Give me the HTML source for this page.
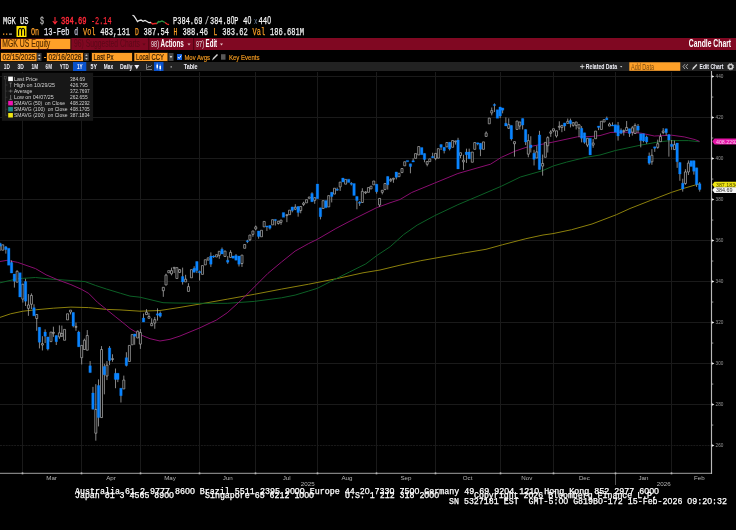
<!DOCTYPE html>
<html lang="en"><head><meta charset="utf-8"><title>MGK US Equity - Candle Chart</title>
<style>
html,body{margin:0;padding:0;background:#000;overflow:hidden}
svg{display:block}
text{white-space:pre}
</style></head>
<body>
<svg width="736" height="530" viewBox="0 0 736 530" shape-rendering="auto">
<rect x="0" y="0" width="736" height="530" fill="#000"/>
<text x="3" y="24" font-size="11.6" fill="#F4F4F4" font-family='"Liberation Mono", "DejaVu Sans Mono", monospace' textLength="25.5" lengthAdjust="spacingAndGlyphs" stroke="#F4F4F4" stroke-width="0.25">MGK US</text>
<text x="40" y="24" font-size="11.6" fill="#B8B8B8" font-family='"Liberation Mono", "DejaVu Sans Mono", monospace' textLength="4" lengthAdjust="spacingAndGlyphs" stroke="#B8B8B8" stroke-width="0.25">$</text>
<path d="M55,17 V23.6 M52.8,21 L55,23.8 L57.2,21" fill="none" stroke="#FF2838" stroke-width="1.1"/>
<text x="61" y="24" font-size="11.6" fill="#FF2838" font-family='"Liberation Mono", "DejaVu Sans Mono", monospace' textLength="25.5" lengthAdjust="spacingAndGlyphs" stroke="#FF2838" stroke-width="0.5">384.69</text>
<text x="91" y="24" font-size="11.6" fill="#FF2838" font-family='"Liberation Mono", "DejaVu Sans Mono", monospace' textLength="20.5" lengthAdjust="spacingAndGlyphs" stroke="#FF2838" stroke-width="0.25">-2.14</text>
<polyline fill="none" stroke="#E8E8E8" stroke-width="1.3" points="132.5,15.2 134,16 136,19 137.5,21.5 139,20.5 141,20 143,21.3 145,20.5 147,21.5 149,22.7 151,22.5"/>
<polyline fill="none" stroke="#E82828" stroke-width="1.3" points="151,22.5 152.5,24 155,23.5 157,23.5"/>
<polyline fill="none" stroke="#2E9A44" stroke-width="1.3" points="157,23.5 158.5,21.5 160,21.8 162,21 164,22 165,22.5"/>
<polyline fill="none" stroke="#E82828" stroke-width="1.3" points="165,22.5 167,24 169,24.7"/>
<text x="173" y="24" font-size="11.6" fill="#F4F4F4" font-family='"Liberation Mono", "DejaVu Sans Mono", monospace' textLength="29.5" lengthAdjust="spacingAndGlyphs" stroke="#F4F4F4" stroke-width="0.25">P384.69</text>
<text x="205" y="24" font-size="11.6" fill="#D0D0D0" font-family='"Liberation Mono", "DejaVu Sans Mono", monospace' textLength="4" lengthAdjust="spacingAndGlyphs" stroke="#D0D0D0" stroke-width="0.25">/</text>
<text x="210" y="24" font-size="11.6" fill="#F4F4F4" font-family='"Liberation Mono", "DejaVu Sans Mono", monospace' textLength="28.5" lengthAdjust="spacingAndGlyphs" stroke="#F4F4F4" stroke-width="0.25">384.8<tspan font-family='"Liberation Sans", sans-serif' font-size="10.79">0</tspan>P</text>
<text x="243" y="24" font-size="11.6" fill="#F4F4F4" font-family='"Liberation Mono", "DejaVu Sans Mono", monospace' textLength="8.3" lengthAdjust="spacingAndGlyphs" stroke="#F4F4F4" stroke-width="0.25">4<tspan font-family='"Liberation Sans", sans-serif' font-size="10.79">0</tspan></text>
<text x="254" y="23.7" font-size="9" fill="#7088A8" font-family='"Liberation Mono", "DejaVu Sans Mono", monospace' textLength="3.5" lengthAdjust="spacingAndGlyphs">x</text>
<text x="258.5" y="24" font-size="11.6" fill="#F4F4F4" font-family='"Liberation Mono", "DejaVu Sans Mono", monospace' textLength="12.5" lengthAdjust="spacingAndGlyphs" stroke="#F4F4F4" stroke-width="0.25">44<tspan font-family='"Liberation Sans", sans-serif' font-size="10.79">0</tspan></text>
<rect x="3" y="33.5" width="1.3" height="1.3" fill="#FFA028" />
<rect x="6" y="33.5" width="1.3" height="1.3" fill="#FFA028" />
<rect x="9" y="33.5" width="3" height="1.3" fill="#999" />
<rect x="16.5" y="26" width="10" height="11" fill="#FFE600" />
<path d="M18.6,35.8 V31.2 Q18.6,28.2 20.2,28.2 Q21.6,28.2 21.6,31.2 V35.8 M21.6,31.2 Q21.6,28.2 23,28.2 Q24.6,28.2 24.6,31.2 V35.8" fill="none" stroke="#000" stroke-width="1.1"/>
<text x="31" y="34.6" font-size="11" fill="#FFA028" font-family='"Liberation Mono", "DejaVu Sans Mono", monospace' textLength="8.16" lengthAdjust="spacingAndGlyphs" stroke="#FFA028" stroke-width="0.25">On</text>
<text x="44" y="34.6" font-size="11" fill="#E8E8F4" font-family='"Liberation Mono", "DejaVu Sans Mono", monospace' textLength="25.48" lengthAdjust="spacingAndGlyphs" stroke="#E8E8F4" stroke-width="0.25">13-Feb</text>
<text x="74.3" y="34.6" font-size="11" fill="#C8C8E0" font-family='"Liberation Mono", "DejaVu Sans Mono", monospace' textLength="3.83" lengthAdjust="spacingAndGlyphs" stroke="#C8C8E0" stroke-width="0.25">d</text>
<text x="83" y="34.6" font-size="11" fill="#FFA028" font-family='"Liberation Mono", "DejaVu Sans Mono", monospace' textLength="12.49" lengthAdjust="spacingAndGlyphs" stroke="#FFA028" stroke-width="0.25">Vol</text>
<text x="100.3" y="34.6" font-size="11" fill="#F4F4F4" font-family='"Liberation Mono", "DejaVu Sans Mono", monospace' textLength="29.81" lengthAdjust="spacingAndGlyphs" stroke="#F4F4F4" stroke-width="0.25">483,131</text>
<text x="135" y="34.6" font-size="11" fill="#FFA028" font-family='"Liberation Mono", "DejaVu Sans Mono", monospace' textLength="3.83" lengthAdjust="spacingAndGlyphs" stroke="#FFA028" stroke-width="0.25">D</text>
<text x="143.6" y="34.6" font-size="11" fill="#F4F4F4" font-family='"Liberation Mono", "DejaVu Sans Mono", monospace' textLength="25.48" lengthAdjust="spacingAndGlyphs" stroke="#F4F4F4" stroke-width="0.25">387.54</text>
<text x="173.6" y="34.6" font-size="11" fill="#FFA028" font-family='"Liberation Mono", "DejaVu Sans Mono", monospace' textLength="3.83" lengthAdjust="spacingAndGlyphs" stroke="#FFA028" stroke-width="0.25">H</text>
<text x="182.6" y="34.6" font-size="11" fill="#F4F4F4" font-family='"Liberation Mono", "DejaVu Sans Mono", monospace' textLength="25.48" lengthAdjust="spacingAndGlyphs" stroke="#F4F4F4" stroke-width="0.25">388.46</text>
<text x="213.6" y="34.6" font-size="11" fill="#FFA028" font-family='"Liberation Mono", "DejaVu Sans Mono", monospace' textLength="3.83" lengthAdjust="spacingAndGlyphs" stroke="#FFA028" stroke-width="0.25">L</text>
<text x="222.3" y="34.6" font-size="11" fill="#F4F4F4" font-family='"Liberation Mono", "DejaVu Sans Mono", monospace' textLength="25.48" lengthAdjust="spacingAndGlyphs" stroke="#F4F4F4" stroke-width="0.25">383.62</text>
<text x="252.6" y="34.6" font-size="11" fill="#FFA028" font-family='"Liberation Mono", "DejaVu Sans Mono", monospace' textLength="12.49" lengthAdjust="spacingAndGlyphs" stroke="#FFA028" stroke-width="0.25">Val</text>
<text x="270" y="34.6" font-size="11" fill="#F4F4F4" font-family='"Liberation Mono", "DejaVu Sans Mono", monospace' textLength="34.14" lengthAdjust="spacingAndGlyphs" stroke="#F4F4F4" stroke-width="0.25">186.681M</text>
<rect x="0" y="38" width="736" height="12" fill="#800822" />
<rect x="0" y="38" width="71.5" height="12" fill="#3A0A10" />
<rect x="1" y="39" width="69.3" height="10" fill="#FFA028" />
<text x="2.3" y="47.3" font-size="10" fill="#5A3000" font-family='"Liberation Sans", "DejaVu Sans", sans-serif' textLength="48" lengthAdjust="spacingAndGlyphs" stroke="#5A3000" stroke-width="0.2" >MGK US Equity</text>
<text x="74" y="47.3" font-size="10" fill="#5C0818" font-family='"Liberation Sans", "DejaVu Sans", sans-serif' textLength="66" lengthAdjust="spacingAndGlyphs" >96) Suggested Charts</text>
<path d="M142.5,43.5 l3,0 l-1.5,2 z" fill="#5C0818"/>
<rect x="148.3" y="38" width="1" height="12" fill="#4A0412" />
<text x="151" y="47.3" font-size="9.5" fill="#D8C4C8" font-family='"Liberation Sans", "DejaVu Sans", sans-serif' textLength="8" lengthAdjust="spacingAndGlyphs" stroke="#D8C4C8" stroke-width="0.15" >98)</text>
<text x="160.6" y="47.3" font-size="10" fill="#fff" font-family='"Liberation Sans", "DejaVu Sans", sans-serif' textLength="23.2" lengthAdjust="spacingAndGlyphs" font-weight="bold" >Actions</text>
<path d="M187.5,43.5 l3,0 l-1.5,2 z" fill="#E8C8CC"/>
<rect x="193.2" y="38" width="1" height="12" fill="#4A0412" />
<text x="196" y="47.3" font-size="9.5" fill="#D8C4C8" font-family='"Liberation Sans", "DejaVu Sans", sans-serif' textLength="8" lengthAdjust="spacingAndGlyphs" stroke="#D8C4C8" stroke-width="0.15" >97)</text>
<text x="205.6" y="47.3" font-size="10" fill="#fff" font-family='"Liberation Sans", "DejaVu Sans", sans-serif' textLength="11.5" lengthAdjust="spacingAndGlyphs" font-weight="bold" >Edit</text>
<path d="M220,43.5 l3,0 l-1.5,2 z" fill="#E8C8CC"/>
<text x="688.8" y="47.2" font-size="10" fill="#fff" font-family='"Liberation Sans", "DejaVu Sans", sans-serif' textLength="42.3" lengthAdjust="spacingAndGlyphs" font-weight="bold" >Candle Chart</text>
<rect x="0.4" y="52.4" width="36.7" height="9.2" fill="#3A2408" />
<rect x="1" y="53" width="35.5" height="8" fill="#FFA028" />
<text x="2.5" y="60" font-size="8.5" fill="#3A2000" font-family='"Liberation Sans", "DejaVu Sans", sans-serif' textLength="33" lengthAdjust="spacingAndGlyphs" stroke="#3A2000" stroke-width="0.2" >02/15/2025</text>
<rect x="37" y="53" width="4.5" height="8" fill="#3C3C3C" />
<path d="M38,56 l2.5,0 l-1.25,-1.8 z M38,58 l2.5,0 l-1.25,1.8 z" fill="#C8C8C8"/>
<rect x="44" y="57" width="2.2" height="1" fill="#FFA028" />
<rect x="46.4" y="52.4" width="37.2" height="9.2" fill="#3A2408" />
<rect x="47" y="53" width="36" height="8" fill="#FFA028" />
<text x="48.5" y="60" font-size="8.5" fill="#3A2000" font-family='"Liberation Sans", "DejaVu Sans", sans-serif' textLength="33" lengthAdjust="spacingAndGlyphs" stroke="#3A2000" stroke-width="0.2" >02/16/2026</text>
<rect x="84.2" y="53" width="4.5" height="8" fill="#3C3C3C" />
<path d="M85.2,56 l2.5,0 l-1.25,-1.8 z M85.2,58 l2.5,0 l-1.25,1.8 z" fill="#C8C8C8"/>
<rect x="91.4" y="52.4" width="41.2" height="9.2" fill="#3A2408" />
<rect x="92" y="53" width="40" height="8" fill="#FFA028" />
<text x="93.5" y="60" font-size="8.5" fill="#3A2000" font-family='"Liberation Sans", "DejaVu Sans", sans-serif' textLength="20" lengthAdjust="spacingAndGlyphs" stroke="#3A2000" stroke-width="0.2" >Last Px</text>
<rect x="133.8" y="52.4" width="34.2" height="9.2" fill="#3A2408" />
<rect x="134.4" y="53" width="33" height="8" fill="#FFA028" />
<text x="135.9" y="60" font-size="8.5" fill="#3A2000" font-family='"Liberation Sans", "DejaVu Sans", sans-serif' textLength="28" lengthAdjust="spacingAndGlyphs" stroke="#3A2000" stroke-width="0.2" >Local CCY</text>
<rect x="168.5" y="53" width="5" height="8" fill="#444" />
<path d="M169.6,56 l2.8,0 l-1.4,2.2 z" fill="#D0D0D0"/>
<rect x="177" y="54" width="5" height="6" fill="#1060E0" />
<path d="M178,57 l1.2,1.5 l2,-3" fill="none" stroke="#fff" stroke-width="0.9"/>
<text x="184.4" y="59.9" font-size="8" fill="#F09820" font-family='"Liberation Sans", "DejaVu Sans", sans-serif' textLength="25.6" lengthAdjust="spacingAndGlyphs" stroke="#F09820" stroke-width="0.2" >Mov Avgs</text>
<path d="M212,60.5 L213,58 L217,54 L218,55 L214,59 Z" fill="#D8D8D8"/>
<rect x="221" y="54.2" width="4.5" height="5.5" fill="#585858" />
<text x="229" y="59.9" font-size="8" fill="#F09820" font-family='"Liberation Sans", "DejaVu Sans", sans-serif' textLength="30.5" lengthAdjust="spacingAndGlyphs" stroke="#F09820" stroke-width="0.2" >Key Events</text>
<rect x="0" y="62" width="736" height="9" fill="#222222" />
<rect x="73" y="62" width="13.3" height="9" fill="#0A52CC" />
<text x="3.8" y="69.3" font-size="7.4" fill="#F0F0F8" font-family='"Liberation Sans", "DejaVu Sans", sans-serif' textLength="6" lengthAdjust="spacingAndGlyphs" font-weight="bold" >1D</text>
<text x="17.5" y="69.3" font-size="7.4" fill="#F0F0F8" font-family='"Liberation Sans", "DejaVu Sans", sans-serif' textLength="6.3" lengthAdjust="spacingAndGlyphs" font-weight="bold" >3D</text>
<text x="31.5" y="69.3" font-size="7.4" fill="#F0F0F8" font-family='"Liberation Sans", "DejaVu Sans", sans-serif' textLength="6.6" lengthAdjust="spacingAndGlyphs" font-weight="bold" >1M</text>
<text x="45.6" y="69.3" font-size="7.4" fill="#F0F0F8" font-family='"Liberation Sans", "DejaVu Sans", sans-serif' textLength="6.4" lengthAdjust="spacingAndGlyphs" font-weight="bold" >6M</text>
<text x="59.8" y="69.3" font-size="7.4" fill="#F0F0F8" font-family='"Liberation Sans", "DejaVu Sans", sans-serif' textLength="9" lengthAdjust="spacingAndGlyphs" font-weight="bold" >YTD</text>
<text x="76.9" y="69.3" font-size="7.4" fill="#F0F0F8" font-family='"Liberation Sans", "DejaVu Sans", sans-serif' textLength="5.7" lengthAdjust="spacingAndGlyphs" font-weight="bold" >1Y</text>
<text x="90.6" y="69.3" font-size="7.4" fill="#F0F0F8" font-family='"Liberation Sans", "DejaVu Sans", sans-serif' textLength="6.4" lengthAdjust="spacingAndGlyphs" font-weight="bold" >5Y</text>
<text x="103.8" y="69.3" font-size="7.4" fill="#F0F0F8" font-family='"Liberation Sans", "DejaVu Sans", sans-serif' textLength="9.3" lengthAdjust="spacingAndGlyphs" font-weight="bold" >Max</text>
<text x="120" y="69.3" font-size="7.4" fill="#F0F0F8" font-family='"Liberation Sans", "DejaVu Sans", sans-serif' textLength="12.5" lengthAdjust="spacingAndGlyphs" font-weight="bold" >Daily</text>
<path d="M134.3,65 l5,0 l-2.5,4.2 z" fill="#F0F0F8"/>
<path d="M146.5,64 L146.5,69.5 L152,69.5" fill="none" stroke="#999" stroke-width="0.8"/>
<path d="M147.5,68 L148.8,66 L150,67 L151.8,65.2" fill="none" stroke="#999" stroke-width="0.8"/>
<rect x="154" y="62" width="9.5" height="9" fill="#0A52CC" />
<path d="M157.2,63.5 v6 M160.2,64.5 v6" stroke="#E8E8F8" stroke-width="0.7"/>
<rect x="156.5" y="64.8" width="1.5" height="3" fill="#fff" />
<rect x="159.5" y="66" width="1.5" height="3" fill="#fff" />
<rect x="170.6" y="66.3" width="1.2" height="1.2" fill="#ccc" />
<text x="183.8" y="69.3" font-size="7.4" fill="#F0F0F8" font-family='"Liberation Sans", "DejaVu Sans", sans-serif' textLength="13.7" lengthAdjust="spacingAndGlyphs" font-weight="bold" >Table</text>
<path d="M580,66.6 h4.4 M582.2,64.4 v4.4" stroke="#ddd" stroke-width="0.9"/>
<text x="585.8" y="69.3" font-size="7.4" fill="#F0F0F8" font-family='"Liberation Sans", "DejaVu Sans", sans-serif' textLength="31.2" lengthAdjust="spacingAndGlyphs" font-weight="bold" >Related Data</text>
<path d="M620,66 l2.4,0 l-1.2,1.6 z" fill="#ccc"/>
<rect x="629.3" y="62.3" width="51" height="8.5" fill="#FFA028" />
<text x="631" y="69.6" font-size="8.5" fill="#7A4A10" font-family='"Liberation Sans", "DejaVu Sans", sans-serif' textLength="23" lengthAdjust="spacingAndGlyphs" >Add Data</text>
<path d="M685,64.2 l-2,2.4 l2,2.4 M687.8,64.2 l-2,2.4 l2,2.4" fill="none" stroke="#ccc" stroke-width="0.8"/>
<path d="M692,70 L692.8,67.8 L696.4,64 L697.4,65 L693.8,68.9 Z" fill="#D8D8D8"/>
<text x="699.6" y="69.3" font-size="7.4" fill="#F0F0F8" font-family='"Liberation Sans", "DejaVu Sans", sans-serif' textLength="23.8" lengthAdjust="spacingAndGlyphs" font-weight="bold" >Edit Chart</text>
<circle cx="730.6" cy="66.7" r="2.1" fill="none" stroke="#ccc" stroke-width="1.5"/>
<circle cx="730.6" cy="66.7" r="3.1" fill="none" stroke="#ccc" stroke-width="0.9" stroke-dasharray="1.2 1.23"/>
<line x1="0" y1="445.5" x2="711.5" y2="445.5" stroke="#1A1A1A" stroke-width="1" stroke-dasharray="2 0.83"/>
<line x1="0" y1="404.5" x2="711.5" y2="404.5" stroke="#1A1A1A" stroke-width="1"/>
<line x1="0" y1="363.5" x2="711.5" y2="363.5" stroke="#1A1A1A" stroke-width="1"/>
<line x1="0" y1="322.5" x2="711.5" y2="322.5" stroke="#1A1A1A" stroke-width="1"/>
<line x1="0" y1="281.5" x2="711.5" y2="281.5" stroke="#1A1A1A" stroke-width="1"/>
<line x1="0" y1="240.5" x2="711.5" y2="240.5" stroke="#1A1A1A" stroke-width="1"/>
<line x1="0" y1="199.5" x2="711.5" y2="199.5" stroke="#1A1A1A" stroke-width="1"/>
<line x1="0" y1="158.5" x2="711.5" y2="158.5" stroke="#1A1A1A" stroke-width="1"/>
<line x1="0" y1="117.5" x2="711.5" y2="117.5" stroke="#1A1A1A" stroke-width="1"/>
<line x1="0" y1="76.5" x2="711.5" y2="76.5" stroke="#1A1A1A" stroke-width="1"/>
<line x1="22.5" y1="72" x2="22.5" y2="473.3" stroke="#1A1A1A" stroke-width="1"/>
<line x1="81.5" y1="72" x2="81.5" y2="473.3" stroke="#1A1A1A" stroke-width="1"/>
<line x1="140.5" y1="72" x2="140.5" y2="473.3" stroke="#1A1A1A" stroke-width="1"/>
<line x1="199.5" y1="72" x2="199.5" y2="473.3" stroke="#1A1A1A" stroke-width="1"/>
<line x1="255.5" y1="72" x2="255.5" y2="473.3" stroke="#1A1A1A" stroke-width="1"/>
<line x1="317.5" y1="72" x2="317.5" y2="473.3" stroke="#1A1A1A" stroke-width="1"/>
<line x1="376.5" y1="72" x2="376.5" y2="473.3" stroke="#1A1A1A" stroke-width="1"/>
<line x1="435.5" y1="72" x2="435.5" y2="473.3" stroke="#1A1A1A" stroke-width="1"/>
<line x1="500.5" y1="72" x2="500.5" y2="473.3" stroke="#1A1A1A" stroke-width="1"/>
<line x1="553.5" y1="72" x2="553.5" y2="473.3" stroke="#1A1A1A" stroke-width="1"/>
<line x1="615.5" y1="72" x2="615.5" y2="473.3" stroke="#1A1A1A" stroke-width="1"/>
<line x1="671.5" y1="72" x2="671.5" y2="473.3" stroke="#1A1A1A" stroke-width="1"/>
<text x="51.6" y="479.6" font-size="6.2" fill="#B4B4B4" font-family='"Liberation Sans", "DejaVu Sans", sans-serif' text-anchor="middle" >Mar</text>
<text x="111" y="479.6" font-size="6.2" fill="#B4B4B4" font-family='"Liberation Sans", "DejaVu Sans", sans-serif' text-anchor="middle" >Apr</text>
<text x="170" y="479.6" font-size="6.2" fill="#B4B4B4" font-family='"Liberation Sans", "DejaVu Sans", sans-serif' text-anchor="middle" >May</text>
<text x="227.8" y="479.6" font-size="6.2" fill="#B4B4B4" font-family='"Liberation Sans", "DejaVu Sans", sans-serif' text-anchor="middle" >Jun</text>
<text x="286.7" y="479.6" font-size="6.2" fill="#B4B4B4" font-family='"Liberation Sans", "DejaVu Sans", sans-serif' text-anchor="middle" >Jul</text>
<text x="347" y="479.6" font-size="6.2" fill="#B4B4B4" font-family='"Liberation Sans", "DejaVu Sans", sans-serif' text-anchor="middle" >Aug</text>
<text x="406" y="479.6" font-size="6.2" fill="#B4B4B4" font-family='"Liberation Sans", "DejaVu Sans", sans-serif' text-anchor="middle" >Sep</text>
<text x="467.6" y="479.6" font-size="6.2" fill="#B4B4B4" font-family='"Liberation Sans", "DejaVu Sans", sans-serif' text-anchor="middle" >Oct</text>
<text x="526.8" y="479.6" font-size="6.2" fill="#B4B4B4" font-family='"Liberation Sans", "DejaVu Sans", sans-serif' text-anchor="middle" >Nov</text>
<text x="584.4" y="479.6" font-size="6.2" fill="#B4B4B4" font-family='"Liberation Sans", "DejaVu Sans", sans-serif' text-anchor="middle" >Dec</text>
<text x="643.4" y="479.6" font-size="6.2" fill="#B4B4B4" font-family='"Liberation Sans", "DejaVu Sans", sans-serif' text-anchor="middle" >Jan</text>
<text x="699.4" y="479.6" font-size="6.2" fill="#B4B4B4" font-family='"Liberation Sans", "DejaVu Sans", sans-serif' text-anchor="middle" >Feb</text>
<text x="307.7" y="485.6" font-size="6.2" fill="#B4B4B4" font-family='"Liberation Sans", "DejaVu Sans", sans-serif' text-anchor="middle" >2025</text>
<text x="663.7" y="485.6" font-size="6.2" fill="#B4B4B4" font-family='"Liberation Sans", "DejaVu Sans", sans-serif' text-anchor="middle" >2026</text>
<line x1="615.5" y1="473.3" x2="615.5" y2="485" stroke="#555" stroke-width="1"/>
<polyline fill="none" stroke="#8C800C" stroke-width="1" stroke-linejoin="round" points="0,317.4 10.6,313.8 23,311.2 35.5,309.8 53.2,308.2 70.9,307.1 88.7,307.6 106.4,309.4 120,309.9 140,311.2 160,310.5 180,307.4 200,304 227.2,299.2 254.3,294.3 281.5,289.1 308.7,284.2 335.9,278.8 363,272.8 380,270 400,265.2 420.8,260.7 461.5,253.4 486,249.3 502.3,244.8 525.9,238.7 543,235 553,233.6 571.6,229.7 592,224 616.4,214.7 630,208.5 650.4,200.5 671.7,192.3 684.3,188.2 696.6,184.6 699.7,183.8"/>
<polyline fill="none" stroke="#0C6026" stroke-width="1" stroke-linejoin="round" points="0,282.8 17.7,278.7 35.5,277.5 53.2,279.3 70.9,280.5 85.1,281.6 95.7,285.5 106.4,289 120.6,293.3 130,296.1 140,297.2 163,302.7 175,303 200,303.3 227.2,303.3 254.3,301.4 281.5,297.8 295.1,295.1 308.7,291 317.4,288.3 335.9,278.8 349.5,272 365.8,263.9 376.6,255.7 390.2,246.7 403.6,234.6 417.2,225.1 434.8,215.6 457.9,204.7 477,196.6 501.4,186.2 520.4,177 542.2,170.8 553.5,165.9 566.6,162.1 586,157.3 600,155 615.4,150.5 640.8,145.1 659.8,141.7 671.7,140.6 688.3,140.6 699.5,141.7"/>
<polyline fill="none" stroke="#8A0E70" stroke-width="1" stroke-linejoin="round" points="0,261.5 7.1,260.3 17.7,262.4 35.5,268.6 46.1,274.8 58.5,280.1 70.9,284.6 81.6,289.4 88.7,293.4 97.5,302.3 106.4,309.4 115.2,316.5 124.1,323.6 130,328.5 140,334.6 150,338.7 160,341 170,339.3 180,336 190,331.9 200,327.8 210,323 216.3,320.1 227.2,312.8 240.8,300.5 254.3,287 267.9,273.4 281.5,262 295.1,251.1 308.7,243.5 317.4,239.3 335.9,228.5 354.9,218.5 376.6,207.7 390,202.8 400,199.5 411.7,192.5 434.8,183 457.9,173.5 477,168 490.5,164.2 501.4,157.3 515,151.2 525.9,147.4 553,142.1 577.5,136.8 590,136.6 600,135.6 610.9,132.4 627.2,132.2 640.8,133.1 654.3,136 671.7,135.2 684.2,136.9 695.1,139.6 699.5,141.4"/>
<g clip-path="url(#chartclip)">
<path d="M0.14,242.76V250.91M5.84,246.15V253.62M11.55,260.42V273.05M14.4,274.01V287.59M17.12,270.34V282.16M22.83,284.2V302.54M25.54,278.76V305.93M28.42,294.08V315.82M31.41,293.4V309.02M33.99,304.27V315.82M36.71,314.46V330.76M39.43,327.36V348.42M42.42,336.2V350.46M45.14,329.4V342.99M47.85,336.88V350.46M53.42,326.68V336.88M56.28,335.52V345.03M59.4,325.33V338.91M61.85,325.6V336.88M70.54,310.11V314.46M73.26,312.42V327.36M75.98,322.61V330.76M78.7,330.76V346.79M81.68,345.43V364.46M84.4,338.64V349.51M87.26,330.08V350.19M90.11,361.06V372.61M92.96,386.88V409.29M95.82,384.16V440.68M98.53,379.4V426.41M101.52,346.11V417.58M104.38,363.78V394.35M106.96,361.06V380.08M109.54,346.11V365.14M112.53,354.27V361.74M115.52,368.53V388.23M117.83,373.29V382.12M120.95,388.23V402.5M123.8,375.6V388.91M126.39,352.23V366.49M134.67,333.91V344.78M137.66,330.52V337.99M140.38,329.16V348.86M143.51,313.53V321.96M146.49,309.18V314.62M148.94,312.85V318.29M151.66,318.29V325.76M154.78,316.93V328.75M157.5,308.37V320.6M160.22,311.49V317.61M163.32,287.31V296.82M166.03,273.72V285.0M171.47,267.61V275.35M174.18,267.34V273.04M179.62,268.97V273.04M182.61,267.61V284.59M185.6,274.81V281.88M188.45,283.23V291.39M194.16,266.25V272.36M196.88,261.49V273.04M199.59,270.6V280.52M210.87,252.39V266.93M213.59,255.38V257.83M219.29,251.3V258.78M222.01,247.5V254.02M227.72,256.06V263.8M230.57,250.22V257.42M236.01,254.02V260.14M238.99,256.06V266.52M241.98,255.11V266.93M247.42,239.76V243.15M249.92,235.03V241.14M252.91,230.95V236.79M255.76,225.52V230.27M258.61,230.95V238.7M266.9,225.92V230.95M269.89,225.52V229.59M275.33,219.4V225.52M278.32,221.17V224.57M281.03,220.08V224.84M286.88,214.65V222.12M292.31,206.9V212.34M295.3,204.18V210.16M298.15,206.49V216.68M300.73,206.49V213.29M303.59,201.74V206.09M312.01,192.23V201.74M314.73,197.66V203.78M320.43,207.85V219.4M331.71,192.23V202.42M337.2,187.55V190.95M340.19,182.12V190.95M351.33,182.12V185.52M356.9,196.39V209.29M359.62,201.14V205.9M362.34,188.23V202.5M365.6,191.36V194.08M376.6,184.16V193.67M379.59,198.42V206.85M382.31,190.27V194.35M387.74,176.41V189.59M390.73,178.04V182.12M393.45,177.77V182.8M396.3,171.93V179.4M410.43,163.78V173.29M413.15,158.34V162.01M424.48,153.42V162.26M427.2,161.58V166.33M432.64,152.74V157.77M435.62,153.42V160.22M441.06,144.59V150.03M444.18,147.31V153.42M449.62,142.28V150.43M455.6,140.92V144.59M458.04,137.8V168.91M460.49,152.74V158.18M463.48,154.78V169.86M466.47,148.67V162.93M469.18,148.67V158.86M477.74,142.83V145.27M480.46,143.23V156.14M486.17,131.41V136.44M491.74,107.5V115.38M494.46,103.42V111.98M500.16,106.96V118.1M502.61,107.91V113.34M505.87,117.42V125.98M508.72,118.37V128.97M511.36,125.38V140.6M514.48,141.68V156.63M519.78,121.98V129.46M522.64,118.59V129.46M525.62,129.46V145.08M528.34,134.21V157.31M530.79,136.25V152.55M534.05,149.84V165.46M536.77,145.76V157.99M539.48,130.82V169.54M542.61,154.59V175.65M547.77,136.25V152.55M550.76,130.14V136.93M553.48,128.78V132.17M556.47,130.82V137.61M559.32,121.3V130.14M561.9,125.38V132.17M564.62,122.93V130.82M567.74,118.59V123.34M570.46,118.59V127.42M573.18,122.66V126.74M576.17,121.98V129.46M579.02,124.7V136.93M581.6,126.06V142.36M584.46,132.85V143.72M587.45,138.29V147.12M593.15,138.97V147.8M598.59,126.06V130.14M606.79,116.55V119.67M609.51,122.66V126.06M612.5,122.39V126.06M618.07,121.98V140.6M621.06,128.37V134.21M623.78,129.46V135.57M626.63,121.03V130.54M629.48,128.78V136.93M632.34,126.06V135.57M635.05,123.34V133.53M638.04,124.02V132.85M640.76,133.8V147.39M643.48,133.8V142.36M646.6,135.57V143.72M649.18,152.55V164.78M651.9,149.16V164.78M654.76,146.85V151.88M657.74,139.65V148.75M660.46,133.53V141.68M663.18,128.1V134.21M666.17,128.78V135.57M668.89,134.62V156.63M671.6,140.05V149.84M674.46,140.6V149.57M677.15,142.99V167.85M679.86,162.42V180.76M682.72,178.72V191.63M685.43,169.21V184.84M688.42,160.38V175.05M693.86,160.65V174.65M696.58,167.85V186.88M699.7,182.12V191.63" stroke="#A8A8A8" stroke-width="0.8" fill="none"/>
<path d="M1.72,244.79h2.0V250.23h-2.0zM16.12,271.29h2.0V282.16h-2.0zM21.83,284.2h2.0V299.14h-2.0zM27.42,304.95h2.0V308.34h-2.0zM30.41,295.43h2.0V304.27h-2.0zM35.71,314.46h2.0V318.53h-2.0zM41.42,343.67h2.0V345.03h-2.0zM49.98,332.12h2.0V341.63h-2.0zM52.42,332.39h2.0V333.29h-2.0zM58.4,332.8h2.0V336.88h-2.0zM60.85,333.48h2.0V336.2h-2.0zM63.57,329.4h2.0V340.27h-2.0zM66.55,313.78h2.0V319.89h-2.0zM69.54,310.11h2.0V312.01h-2.0zM74.98,326.41h2.0V327.31h-2.0zM80.68,345.43h2.0V357.66h-2.0zM83.4,340.27h2.0V349.51h-2.0zM86.26,335.52h2.0V350.19h-2.0zM94.82,409.43h2.0V433.21h-2.0zM100.52,349.51h2.0V417.58h-2.0zM105.96,365.14h2.0V376.01h-2.0zM111.53,358.61h2.0V359.51h-2.0zM122.8,380.08h2.0V388.91h-2.0zM128.38,345.43h2.0V361.47h-2.0zM131.23,334.59h2.0V344.78h-2.0zM136.66,331.2h2.0V337.99h-2.0zM139.38,332.55h2.0V344.1h-2.0zM145.49,312.17h2.0V314.62h-2.0zM147.94,316.52h2.0V318.29h-2.0zM150.66,323.45h2.0V325.76h-2.0zM153.78,319.65h2.0V323.04h-2.0zM162.32,287.31h2.0V290.71h-2.0zM165.03,275.08h2.0V285.0h-2.0zM167.75,270.6h2.0V272.77h-2.0zM170.47,270.6h2.0V273.72h-2.0zM173.18,267.34h2.0V268.24h-2.0zM175.9,267.61h2.0V278.48h-2.0zM178.62,269.65h2.0V272.36h-2.0zM184.6,279.16h2.0V281.88h-2.0zM187.45,286.63h2.0V291.39h-2.0zM190.44,269.65h2.0V277.8h-2.0zM201.45,265.57h2.0V274.4h-2.0zM204.3,259.73h2.0V264.89h-2.0zM207.15,257.83h2.0V260.14h-2.0zM215.58,254.7h2.0V257.01h-2.0zM218.29,251.3h2.0V255.38h-2.0zM224.0,251.03h2.0V256.47h-2.0zM229.57,252.39h2.0V257.42h-2.0zM240.98,255.11h2.0V263.53h-2.0zM243.7,244.51h2.0V248.32h-2.0zM248.92,235.03h2.0V239.78h-2.0zM251.91,230.95h2.0V234.35h-2.0zM254.76,226.88h2.0V228.91h-2.0zM260.47,230.27h2.0V236.79h-2.0zM263.18,221.44h2.0V226.88h-2.0zM271.61,219.67h2.0V224.84h-2.0zM277.32,221.17h2.0V223.48h-2.0zM280.03,220.08h2.0V222.39h-2.0zM285.88,214.65h2.0V215.6h-2.0zM288.59,210.16h2.0V214.65h-2.0zM294.3,207.17h2.0V209.21h-2.0zM299.73,206.49h2.0V210.57h-2.0zM302.59,203.1h2.0V204.46h-2.0zM305.58,199.7h2.0V202.83h-2.0zM308.29,196.98h2.0V198.34h-2.0zM313.73,197.66h2.0V200.38h-2.0zM322.15,200.65h2.0V208.53h-2.0zM327.72,195.62h2.0V206.9h-2.0zM333.48,188.23h2.0V194.08h-2.0zM339.19,182.12h2.0V186.88h-2.0zM344.62,179.4h2.0V184.16h-2.0zM361.34,191.36h2.0V202.5h-2.0zM364.6,191.9h2.0V192.8h-2.0zM367.45,187.55h2.0V192.31h-2.0zM370.03,186.2h2.0V188.91h-2.0zM372.75,181.03h2.0V184.84h-2.0zM378.59,198.42h2.0V204.95h-2.0zM381.31,190.27h2.0V192.31h-2.0zM384.03,183.48h2.0V189.59h-2.0zM389.73,179.4h2.0V180.76h-2.0zM392.45,178.32h2.0V179.22h-2.0zM398.02,173.29h2.0V176.68h-2.0zM401.01,168.53h2.0V172.61h-2.0zM403.73,161.74h2.0V165.82h-2.0zM414.6,153.59h2.0V158.34h-2.0zM417.72,146.52h2.0V154.95h-2.0zM426.2,161.58h2.0V164.29h-2.0zM428.78,158.86h2.0V161.58h-2.0zM434.62,153.42h2.0V158.59h-2.0zM437.34,148.67h2.0V158.18h-2.0zM445.9,142.55h2.0V146.9h-2.0zM451.61,140.52h2.0V147.31h-2.0zM454.6,140.92h2.0V141.82h-2.0zM459.49,152.74h2.0V155.46h-2.0zM462.48,160.22h2.0V161.85h-2.0zM471.31,152.07h2.0V162.26h-2.0zM473.76,142.55h2.0V149.35h-2.0zM482.45,141.88h2.0V149.35h-2.0zM485.17,133.04h2.0V136.44h-2.0zM488.29,118.1h2.0V123.8h-2.0zM490.74,110.62h2.0V112.93h-2.0zM507.72,124.62h2.0V128.29h-2.0zM513.48,141.68h2.0V143.72h-2.0zM516.07,121.03h2.0V129.46h-2.0zM518.78,121.98h2.0V126.06h-2.0zM527.34,140.6h2.0V154.18h-2.0zM535.77,151.88h2.0V157.99h-2.0zM541.61,163.42h2.0V166.14h-2.0zM544.33,142.36h2.0V157.31h-2.0zM546.77,137.61h2.0V145.76h-2.0zM549.76,131.9h2.0V133.26h-2.0zM552.48,128.78h2.0V130.82h-2.0zM555.47,130.82h2.0V135.98h-2.0zM558.32,126.33h2.0V127.23h-2.0zM560.9,125.38h2.0V127.42h-2.0zM566.74,121.3h2.0V123.34h-2.0zM572.18,122.66h2.0V125.38h-2.0zM575.17,121.98h2.0V125.38h-2.0zM578.02,124.7h2.0V128.1h-2.0zM586.45,138.29h2.0V145.08h-2.0zM592.15,143.04h2.0V145.08h-2.0zM594.6,131.09h2.0V138.7h-2.0zM600.36,121.3h2.0V129.46h-2.0zM603.08,119.67h2.0V121.98h-2.0zM608.51,124.02h2.0V126.06h-2.0zM622.78,130.68h2.0V131.58h-2.0zM625.63,127.42h2.0V130.54h-2.0zM631.34,127.83h2.0V132.17h-2.0zM634.05,125.38h2.0V133.53h-2.0zM650.9,155.27h2.0V161.79h-2.0zM656.74,143.72h2.0V147.39h-2.0zM659.46,136.52h2.0V141.68h-2.0zM662.18,131.09h2.0V132.45h-2.0zM673.46,144.67h2.0V149.57h-2.0zM684.43,171.93h2.0V183.48h-2.0zM687.42,163.1h2.0V171.93h-2.0z" stroke="#B4B4B4" stroke-width="0.7" fill="#000"/>
<path d="M-1.11,243.43h2.5V246.15h-2.5zM4.59,246.83h2.5V249.55h-2.5zM7.45,248.19h2.5V265.17h-2.5zM10.3,262.46h2.5V273.05h-2.5zM13.15,274.01h2.5V281.21h-2.5zM18.72,272.65h2.5V297.1h-2.5zM24.29,281.48h2.5V301.18h-2.5zM32.74,307.66h2.5V315.82h-2.5zM38.18,327.36h2.5V342.31h-2.5zM43.89,332.12h2.5V336.2h-2.5zM46.6,336.88h2.5V349.1h-2.5zM55.03,335.52h2.5V341.63h-2.5zM72.01,312.42h2.5V326.01h-2.5zM77.45,332.12h2.5V346.79h-2.5zM88.86,365.82h2.5V372.61h-2.5zM91.71,392.99h2.5V409.29h-2.5zM97.28,385.52h2.5V417.58h-2.5zM103.13,366.49h2.5V374.65h-2.5zM108.29,347.88h2.5V360.38h-2.5zM114.27,373.29h2.5V379.4h-2.5zM116.58,373.29h2.5V379.4h-2.5zM119.7,388.23h2.5V395.71h-2.5zM125.14,357.66h2.5V365.54h-2.5zM133.42,333.91h2.5V336.36h-2.5zM142.26,318.02h2.5V321.96h-2.5zM156.25,313.8h2.5V315.16h-2.5zM158.97,313.12h2.5V316.25h-2.5zM181.36,276.44h2.5V281.88h-2.5zM192.91,268.29h2.5V272.36h-2.5zM195.63,261.49h2.5V270.6h-2.5zM198.34,271.41h2.5V272.77h-2.5zM209.62,256.06h2.5V264.21h-2.5zM212.34,256.06h2.5V256.96h-2.5zM220.76,249.27h2.5V254.02h-2.5zM226.47,260.14h2.5V262.17h-2.5zM231.9,256.06h2.5V258.37h-2.5zM234.76,255.38h2.5V260.14h-2.5zM237.74,256.06h2.5V264.21h-2.5zM246.17,240.71h2.5V241.79h-2.5zM257.36,230.95h2.5V236.39h-2.5zM265.65,225.92h2.5V227.01h-2.5zM268.64,225.52h2.5V228.23h-2.5zM274.08,219.4h2.5V220.49h-2.5zM282.23,212.61h2.5V217.36h-2.5zM291.06,206.9h2.5V210.57h-2.5zM296.9,206.49h2.5V212.61h-2.5zM310.76,193.59h2.5V201.74h-2.5zM316.2,184.08h2.5V198.75h-2.5zM319.18,207.85h2.5V216.68h-2.5zM324.62,200.38h2.5V207.85h-2.5zM330.46,192.23h2.5V196.58h-2.5zM335.95,189.18h2.5V190.27h-2.5zM341.66,178.04h2.5V182.12h-2.5zM347.36,179.13h2.5V182.39h-2.5zM350.08,183.21h2.5V184.29h-2.5zM352.8,183.48h2.5V195.43h-2.5zM355.65,196.39h2.5V200.46h-2.5zM358.37,202.23h2.5V203.32h-2.5zM375.35,184.16h2.5V191.63h-2.5zM386.49,176.41h2.5V184.84h-2.5zM395.05,171.93h2.5V177.36h-2.5zM406.2,160.38h2.5V161.74h-2.5zM409.18,163.78h2.5V166.49h-2.5zM411.9,160.65h2.5V162.01h-2.5zM420.46,147.47h2.5V154.67h-2.5zM423.23,153.42h2.5V159.54h-2.5zM431.39,156.41h2.5V157.77h-2.5zM439.81,144.59h2.5V147.31h-2.5zM442.93,147.31h2.5V150.71h-2.5zM448.37,142.28h2.5V149.08h-2.5zM456.79,140.11h2.5V168.91h-2.5zM465.22,152.07h2.5V154.78h-2.5zM467.93,152.07h2.5V158.86h-2.5zM476.49,142.83h2.5V143.91h-2.5zM479.21,143.23h2.5V149.35h-2.5zM493.21,104.51h2.5V105.6h-2.5zM496.2,109.67h2.5V118.37h-2.5zM498.91,106.96h2.5V116.06h-2.5zM501.36,107.91h2.5V110.22h-2.5zM504.62,123.26h2.5V125.98h-2.5zM510.11,125.38h2.5V138.97h-2.5zM521.39,118.59h2.5V125.11h-2.5zM524.37,129.46h2.5V141.96h-2.5zM529.54,145.08h2.5V147.8h-2.5zM532.8,153.23h2.5V159.35h-2.5zM538.23,134.89h2.5V169.54h-2.5zM563.37,122.93h2.5V126.06h-2.5zM569.21,120.62h2.5V123.75h-2.5zM580.35,128.37h2.5V138.29h-2.5zM583.21,132.85h2.5V142.36h-2.5zM588.91,138.29h2.5V155.0h-2.5zM597.34,126.06h2.5V127.42h-2.5zM605.54,118.32h2.5V119.67h-2.5zM611.25,125.11h2.5V126.06h-2.5zM614.1,124.7h2.5V132.17h-2.5zM616.82,125.38h2.5V135.98h-2.5zM619.81,130.14h2.5V133.26h-2.5zM628.23,128.78h2.5V133.53h-2.5zM636.79,126.06h2.5V130.14h-2.5zM639.51,133.8h2.5V140.6h-2.5zM642.23,133.8h2.5V141.01h-2.5zM645.35,136.93h2.5V141.96h-2.5zM647.93,155.95h2.5V163.15h-2.5zM653.51,146.85h2.5V148.21h-2.5zM664.92,128.78h2.5V132.85h-2.5zM667.64,134.62h2.5V140.05h-2.5zM670.35,144.13h2.5V146.44h-2.5zM675.9,142.99h2.5V161.74h-2.5zM678.61,162.42h2.5V173.97h-2.5zM681.47,183.21h2.5V188.91h-2.5zM689.89,160.65h2.5V166.49h-2.5zM692.61,160.65h2.5V171.25h-2.5zM695.33,167.85h2.5V184.57h-2.5zM698.45,183.75h2.5V189.59h-2.5z" fill="#0A84FF" stroke="#0A84FF" stroke-width="0.3"/>
</g>
<defs><clipPath id="chartclip"><rect x="0" y="72" width="711.5" height="401.3"/></clipPath></defs>
<line x1="0" y1="473.3" x2="711.5" y2="473.3" stroke="#808080" stroke-width="1.3"/>
<rect x="21.7" y="472.40000000000003" width="1.6" height="1.9" fill="#B8B8B8"/>
<rect x="80.7" y="472.40000000000003" width="1.6" height="1.9" fill="#B8B8B8"/>
<rect x="139.7" y="472.40000000000003" width="1.6" height="1.9" fill="#B8B8B8"/>
<rect x="198.7" y="472.40000000000003" width="1.6" height="1.9" fill="#B8B8B8"/>
<rect x="254.7" y="472.40000000000003" width="1.6" height="1.9" fill="#B8B8B8"/>
<rect x="316.7" y="472.40000000000003" width="1.6" height="1.9" fill="#B8B8B8"/>
<rect x="375.7" y="472.40000000000003" width="1.6" height="1.9" fill="#B8B8B8"/>
<rect x="434.7" y="472.40000000000003" width="1.6" height="1.9" fill="#B8B8B8"/>
<rect x="499.7" y="472.40000000000003" width="1.6" height="1.9" fill="#B8B8B8"/>
<rect x="552.7" y="472.40000000000003" width="1.6" height="1.9" fill="#B8B8B8"/>
<rect x="614.7" y="472.40000000000003" width="1.6" height="1.9" fill="#B8B8B8"/>
<rect x="670.7" y="472.40000000000003" width="1.6" height="1.9" fill="#B8B8B8"/>
<line x1="711.5" y1="71" x2="711.5" y2="473.90000000000003" stroke="#B8B8B8" stroke-width="1.15"/>
<path d="M711.8,444.3 l2.6,1.2 l-2.6,1.2 z" fill="#F0F0F0"/>
<text x="715.6" y="447.4" font-size="5.5" fill="#989898" font-family='"Liberation Sans", "DejaVu Sans", sans-serif' textLength="7.8" lengthAdjust="spacingAndGlyphs" >260</text>
<rect x="711.9" y="424.6" width="1.4" height="0.9" fill="#aaa"/>
<path d="M711.8,403.3 l2.6,1.2 l-2.6,1.2 z" fill="#F0F0F0"/>
<text x="715.6" y="406.4" font-size="5.5" fill="#989898" font-family='"Liberation Sans", "DejaVu Sans", sans-serif' textLength="7.8" lengthAdjust="spacingAndGlyphs" >280</text>
<rect x="711.9" y="383.6" width="1.4" height="0.9" fill="#aaa"/>
<path d="M711.8,362.3 l2.6,1.2 l-2.6,1.2 z" fill="#F0F0F0"/>
<text x="715.6" y="365.4" font-size="5.5" fill="#989898" font-family='"Liberation Sans", "DejaVu Sans", sans-serif' textLength="7.8" lengthAdjust="spacingAndGlyphs" >300</text>
<rect x="711.9" y="342.6" width="1.4" height="0.9" fill="#aaa"/>
<path d="M711.8,321.3 l2.6,1.2 l-2.6,1.2 z" fill="#F0F0F0"/>
<text x="715.6" y="324.4" font-size="5.5" fill="#989898" font-family='"Liberation Sans", "DejaVu Sans", sans-serif' textLength="7.8" lengthAdjust="spacingAndGlyphs" >320</text>
<rect x="711.9" y="301.6" width="1.4" height="0.9" fill="#aaa"/>
<path d="M711.8,280.3 l2.6,1.2 l-2.6,1.2 z" fill="#F0F0F0"/>
<text x="715.6" y="283.4" font-size="5.5" fill="#989898" font-family='"Liberation Sans", "DejaVu Sans", sans-serif' textLength="7.8" lengthAdjust="spacingAndGlyphs" >340</text>
<rect x="711.9" y="260.6" width="1.4" height="0.9" fill="#aaa"/>
<path d="M711.8,239.3 l2.6,1.2 l-2.6,1.2 z" fill="#F0F0F0"/>
<text x="715.6" y="242.4" font-size="5.5" fill="#989898" font-family='"Liberation Sans", "DejaVu Sans", sans-serif' textLength="7.8" lengthAdjust="spacingAndGlyphs" >360</text>
<rect x="711.9" y="219.6" width="1.4" height="0.9" fill="#aaa"/>
<path d="M711.8,198.3 l2.6,1.2 l-2.6,1.2 z" fill="#F0F0F0"/>
<text x="715.6" y="201.4" font-size="5.5" fill="#989898" font-family='"Liberation Sans", "DejaVu Sans", sans-serif' textLength="7.8" lengthAdjust="spacingAndGlyphs" >380</text>
<rect x="711.9" y="178.6" width="1.4" height="0.9" fill="#aaa"/>
<path d="M711.8,157.3 l2.6,1.2 l-2.6,1.2 z" fill="#F0F0F0"/>
<text x="715.6" y="160.4" font-size="5.5" fill="#989898" font-family='"Liberation Sans", "DejaVu Sans", sans-serif' textLength="7.8" lengthAdjust="spacingAndGlyphs" >400</text>
<rect x="711.9" y="137.6" width="1.4" height="0.9" fill="#aaa"/>
<path d="M711.8,116.3 l2.6,1.2 l-2.6,1.2 z" fill="#F0F0F0"/>
<text x="715.6" y="119.4" font-size="5.5" fill="#989898" font-family='"Liberation Sans", "DejaVu Sans", sans-serif' textLength="7.8" lengthAdjust="spacingAndGlyphs" >420</text>
<rect x="711.9" y="96.6" width="1.4" height="0.9" fill="#aaa"/>
<path d="M711.8,75.3 l2.6,1.2 l-2.6,1.2 z" fill="#F0F0F0"/>
<text x="715.6" y="78.4" font-size="5.5" fill="#989898" font-family='"Liberation Sans", "DejaVu Sans", sans-serif' textLength="7.8" lengthAdjust="spacingAndGlyphs" >440</text>
<path d="M712.3,141.5 l2.2,-2.9 H736 v5.8 H714.5 z" fill="#E614A8"/>
<text x="716" y="143.6" font-size="6.2" fill="#F8C8EC" font-family='"Liberation Sans", "DejaVu Sans", sans-serif' textLength="22.0" lengthAdjust="spacingAndGlyphs" >408.2292</text>
<path d="M712.3,184.6 l2.2,-2.9 H736 v5.8 H714.5 z" fill="#F0E614"/>
<text x="716" y="186.7" font-size="6.2" fill="#4A4400" font-family='"Liberation Sans", "DejaVu Sans", sans-serif' textLength="22.0" lengthAdjust="spacingAndGlyphs" >387.1834</text>
<path d="M712.3,190.1 l2.2,-2.9 H736 v5.8 H714.5 z" fill="#F4F4F4"/>
<text x="716" y="192.2" font-size="6.2" fill="#333" font-family='"Liberation Sans", "DejaVu Sans", sans-serif' textLength="16.5" lengthAdjust="spacingAndGlyphs" >384.69</text>
<rect x="1.9" y="72.8" width="91.2" height="48" fill="#171717" />
<path d="M5.4,78.5 V115.5 M5.4,85 h2 M5.4,91.1 h2 M5.4,97.2 h2 M5.4,103.3 h2 M5.4,109.2 h2 M5.4,115.3 h2" stroke="#444" stroke-width="0.6" fill="none"/>
<rect x="4.2" y="76.6" width="2.4" height="2.4" fill="#171717" stroke="#555" stroke-width="0.5"/>
<rect x="8.2" y="76.6" width="4.7" height="4.5" fill="#fff" />
<text x="14" y="80.95" font-size="5.9" fill="#D2D2D2" font-family='"Liberation Sans", "DejaVu Sans", sans-serif' textLength="23.8" lengthAdjust="spacingAndGlyphs" >Last Price</text>
<text x="70" y="80.95" font-size="5.9" fill="#D2D2D2" font-family='"Liberation Sans", "DejaVu Sans", sans-serif' textLength="15" lengthAdjust="spacingAndGlyphs" >384.69</text>
<text x="14" y="87.02" font-size="5.9" fill="#D2D2D2" font-family='"Liberation Sans", "DejaVu Sans", sans-serif' textLength="41" lengthAdjust="spacingAndGlyphs" >High on 10/29/25</text>
<text x="70" y="87.02" font-size="5.9" fill="#D2D2D2" font-family='"Liberation Sans", "DejaVu Sans", sans-serif' textLength="17.6" lengthAdjust="spacingAndGlyphs" >426.795</text>
<text x="14" y="93.09" font-size="5.9" fill="#D2D2D2" font-family='"Liberation Sans", "DejaVu Sans", sans-serif' textLength="18.3" lengthAdjust="spacingAndGlyphs" >Average</text>
<text x="70" y="93.09" font-size="5.9" fill="#D2D2D2" font-family='"Liberation Sans", "DejaVu Sans", sans-serif' textLength="19.7" lengthAdjust="spacingAndGlyphs" >372.7697</text>
<text x="14" y="99.16" font-size="5.9" fill="#D2D2D2" font-family='"Liberation Sans", "DejaVu Sans", sans-serif' textLength="39.7" lengthAdjust="spacingAndGlyphs" >Low on 04/07/25</text>
<text x="70" y="99.16" font-size="5.9" fill="#D2D2D2" font-family='"Liberation Sans", "DejaVu Sans", sans-serif' textLength="17.6" lengthAdjust="spacingAndGlyphs" >262.655</text>
<rect x="8.2" y="100.88" width="4.7" height="4.5" fill="#F014B4" />
<text x="14" y="105.23" font-size="5.9" fill="#D2D2D2" font-family='"Liberation Sans", "DejaVu Sans", sans-serif' textLength="51" lengthAdjust="spacingAndGlyphs" >SMAVG (50)  on Close</text>
<text x="70" y="105.23" font-size="5.9" fill="#D2D2D2" font-family='"Liberation Sans", "DejaVu Sans", sans-serif' textLength="19.7" lengthAdjust="spacingAndGlyphs" >408.2292</text>
<rect x="8.2" y="106.95" width="4.7" height="4.5" fill="#1E8C8C" />
<text x="14" y="111.3" font-size="5.9" fill="#D2D2D2" font-family='"Liberation Sans", "DejaVu Sans", sans-serif' textLength="53.5" lengthAdjust="spacingAndGlyphs" >SMAVG (100)  on Close</text>
<text x="70" y="111.3" font-size="5.9" fill="#D2D2D2" font-family='"Liberation Sans", "DejaVu Sans", sans-serif' textLength="19.7" lengthAdjust="spacingAndGlyphs" >408.1705</text>
<rect x="8.2" y="113.02" width="4.7" height="4.5" fill="#F0E614" />
<text x="14" y="117.37" font-size="5.9" fill="#D2D2D2" font-family='"Liberation Sans", "DejaVu Sans", sans-serif' textLength="53.5" lengthAdjust="spacingAndGlyphs" >SMAVG (200)  on Close</text>
<text x="70" y="117.37" font-size="5.9" fill="#D2D2D2" font-family='"Liberation Sans", "DejaVu Sans", sans-serif' textLength="19.7" lengthAdjust="spacingAndGlyphs" >387.1834</text>
<path d="M9.4,83 h2.4 M10.6,83 v4.4" stroke="#999" stroke-width="0.6" fill="none"/>
<path d="M8.6,91.1 h4 M10.6,89.6 v3" stroke="#888" stroke-width="0.6" fill="none"/>
<path d="M9.4,99.4 h2.4 M10.6,95 v4.4" stroke="#999" stroke-width="0.6" fill="none"/>
<text x="75" y="494" font-size="8.2" fill="#fff" font-family='"Liberation Mono", "DejaVu Sans Mono", monospace' textLength="584" lengthAdjust="spacingAndGlyphs" stroke="#fff" stroke-width="0.25">Australia 61 2 9777 86<tspan font-family='"Liberation Sans", sans-serif' font-size="8.69">0</tspan><tspan font-family='"Liberation Sans", sans-serif' font-size="8.69">0</tspan> Brazil 5511 2395 9<tspan font-family='"Liberation Sans", sans-serif' font-size="8.69">0</tspan><tspan font-family='"Liberation Sans", sans-serif' font-size="8.69">0</tspan><tspan font-family='"Liberation Sans", sans-serif' font-size="8.69">0</tspan> Europe 44 2<tspan font-family='"Liberation Sans", sans-serif' font-size="8.69">0</tspan> 733<tspan font-family='"Liberation Sans", sans-serif' font-size="8.69">0</tspan> 75<tspan font-family='"Liberation Sans", sans-serif' font-size="8.69">0</tspan><tspan font-family='"Liberation Sans", sans-serif' font-size="8.69">0</tspan> Germany 49 69 92<tspan font-family='"Liberation Sans", sans-serif' font-size="8.69">0</tspan>4 121<tspan font-family='"Liberation Sans", sans-serif' font-size="8.69">0</tspan> Hong Kong 852 2977 6<tspan font-family='"Liberation Sans", sans-serif' font-size="8.69">0</tspan><tspan font-family='"Liberation Sans", sans-serif' font-size="8.69">0</tspan><tspan font-family='"Liberation Sans", sans-serif' font-size="8.69">0</tspan></text>
<text x="75" y="498.3" font-size="8.2" fill="#fff" font-family='"Liberation Mono", "DejaVu Sans Mono", monospace' textLength="99" lengthAdjust="spacingAndGlyphs" stroke="#fff" stroke-width="0.25">Japan 81 3 4565 89<tspan font-family='"Liberation Sans", sans-serif' font-size="8.69">0</tspan><tspan font-family='"Liberation Sans", sans-serif' font-size="8.69">0</tspan></text>
<text x="205" y="498.3" font-size="8.2" fill="#fff" font-family='"Liberation Mono", "DejaVu Sans Mono", monospace' textLength="109" lengthAdjust="spacingAndGlyphs" stroke="#fff" stroke-width="0.25">Singapore 65 6212 1<tspan font-family='"Liberation Sans", sans-serif' font-size="8.69">0</tspan><tspan font-family='"Liberation Sans", sans-serif' font-size="8.69">0</tspan><tspan font-family='"Liberation Sans", sans-serif' font-size="8.69">0</tspan></text>
<text x="345" y="498.3" font-size="8.2" fill="#fff" font-family='"Liberation Mono", "DejaVu Sans Mono", monospace' textLength="94" lengthAdjust="spacingAndGlyphs" stroke="#fff" stroke-width="0.25">U.S. 1 212 318 2<tspan font-family='"Liberation Sans", sans-serif' font-size="8.69">0</tspan><tspan font-family='"Liberation Sans", sans-serif' font-size="8.69">0</tspan><tspan font-family='"Liberation Sans", sans-serif' font-size="8.69">0</tspan></text>
<text x="474" y="498.3" font-size="8.2" fill="#fff" font-family='"Liberation Mono", "DejaVu Sans Mono", monospace' textLength="183" lengthAdjust="spacingAndGlyphs" stroke="#fff" stroke-width="0.25">Copyright 2<tspan font-family='"Liberation Sans", sans-serif' font-size="8.69">0</tspan>26 Bloomberg Finance L.P.</text>
<text x="449" y="503.5" font-size="8.2" fill="#fff" font-family='"Liberation Mono", "DejaVu Sans Mono", monospace' textLength="278" lengthAdjust="spacingAndGlyphs" stroke="#fff" stroke-width="0.25">SN 5327181 EST  GMT-5:<tspan font-family='"Liberation Sans", sans-serif' font-size="8.69">0</tspan><tspan font-family='"Liberation Sans", sans-serif' font-size="8.69">0</tspan> G819B<tspan font-family='"Liberation Sans", sans-serif' font-size="8.69">0</tspan>-172 15-Feb-2<tspan font-family='"Liberation Sans", sans-serif' font-size="8.69">0</tspan>26 <tspan font-family='"Liberation Sans", sans-serif' font-size="8.69">0</tspan>9:2<tspan font-family='"Liberation Sans", sans-serif' font-size="8.69">0</tspan>:32</text>
</svg>
</body></html>
